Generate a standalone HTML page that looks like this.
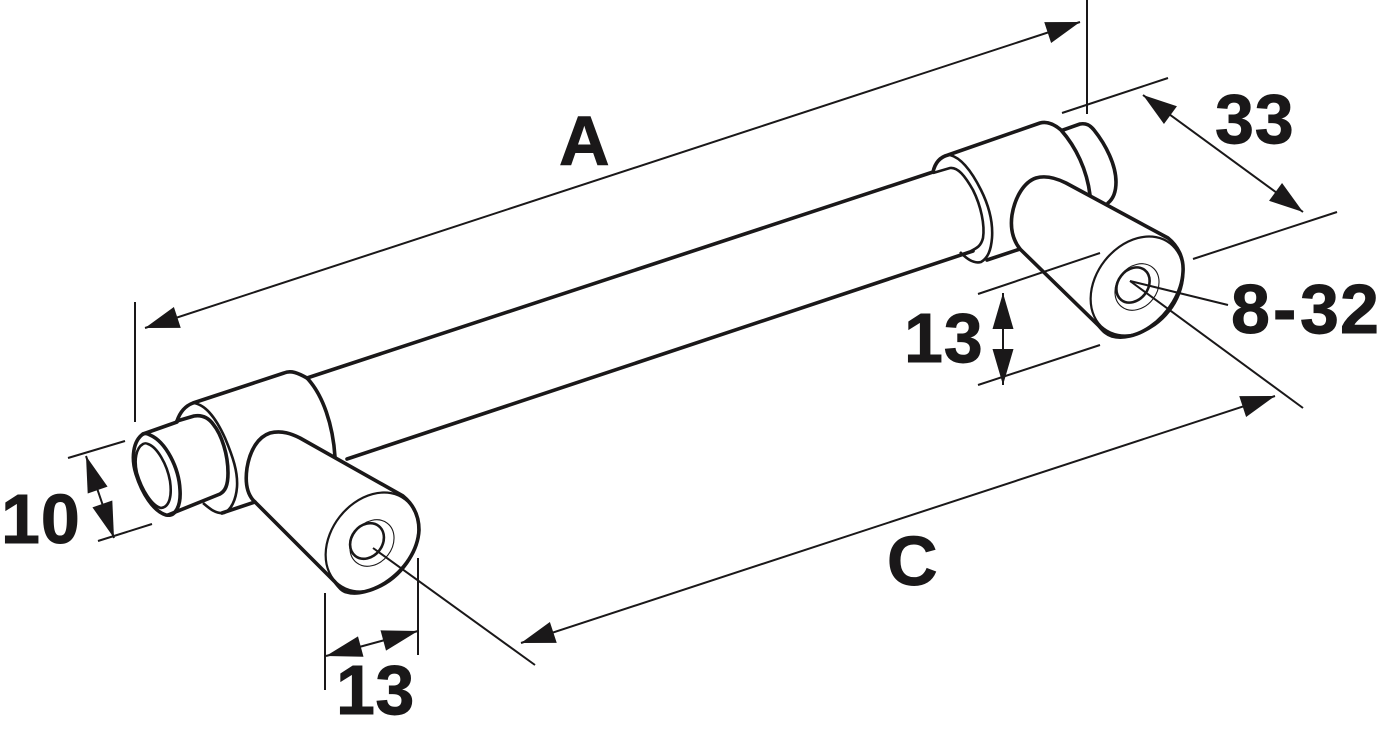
<!DOCTYPE html>
<html><head><meta charset="utf-8"><style>
html,body{margin:0;padding:0;background:#fff}
svg{display:block}
text{font-family:"Liberation Sans",sans-serif;font-weight:bold;fill:#1a1819;stroke:#1a1819;stroke-width:.9}
.t{fill:none;stroke:#1a1819;stroke-width:3.6;stroke-linejoin:round;stroke-linecap:round}
.m{fill:none;stroke:#1a1819;stroke-width:2.6}
.h{fill:none;stroke:#1a1819;stroke-width:1.1}
.d{fill:none;stroke:#1a1819;stroke-width:2}
</style></head><body>
<svg width="1379" height="730" viewBox="0 0 1379 730" xmlns="http://www.w3.org/2000/svg">
<defs>
<marker id="a" markerUnits="userSpaceOnUse" markerWidth="40" markerHeight="26" refX="36" refY="13" orient="auto-start-reverse"><path d="M2,2 L36,13 L2,24 Z" fill="#1a1819" stroke="none"/></marker>
<marker id="b" markerUnits="userSpaceOnUse" markerWidth="40" markerHeight="26" refX="37" refY="13" orient="auto-start-reverse"><path d="M1,2.5 L37,13 L1,23.5 Z" fill="#1a1819" stroke="none"/></marker>
</defs>

<!-- bar -->
<path class="t" d="M307,378 L933,172"/>
<path class="t" d="M347,459 L973,251"/>

<!-- left stub -->
<path class="t" d="M143,434 L177,422"/>
<path class="t" d="M143,434 C133,441 131,458 136,474 C142,493 153,511 166,515 C176,517 181,505 180,490 C179,468 166,442 150,435 C147,433 145,433 143,434 Z"/>
<path class="m" d="M143,444 C136,448 134,460 137,473 C142,490 152,506 161,508 C170,507 172,495 170,481 C167,464 157,447 148,444 C146,443 145,443 143,444 Z"/>
<path class="t" d="M177,421 L194,416 C200,415 207,416 213,424 C222,435 228,455 228,473 C228,486 225,491 220,494 L168,515"/>

<!-- left collar -->
<path class="t" d="M177,421 C180,412 185,406 193,403 L284,373 C291,370 298,373 307,378 C323,395 333,425 335,457"/>
<path class="m" d="M193,403 C205,404 216,418 225,438 C233,457 238,472 237,487 C236,500 231,510 224,513 C216,514 210,509 203,503"/>
<path class="t" d="M222,513 L255,502"/>

<!-- left cone -->
<path class="t" fill="#fff" d="M253,500 C247,493 245,482 247,468 C250,450 258,437 270,433 C282,430 292,434 300,438 L403,496 C414,505 419,517 419,530 C418,550 405,570 385,583 C372,591 357,595 347,592 C342,591 339,587 335,582 Z"/>
<ellipse class="m" cx="372" cy="542" rx="41" ry="54" transform="rotate(38 372 542)" style="stroke-width:2.2"/>
<ellipse class="m" cx="367" cy="541" rx="15.5" ry="19" transform="rotate(38 367 541)"/>
<ellipse class="h" cx="372" cy="543" rx="20" ry="25" transform="rotate(38 372 543)"/>

<!-- right collar -->
<path class="t" d="M1063,130 L1080,124 C1086,123 1090,125 1094,130 C1106,145 1116,165 1116,182 C1116,192 1113,199 1108,203"/>
<path class="t" d="M933,172 C935,163 940,157 948,155 L1040,123 C1047,121 1054,124 1061,130 C1076,147 1087,170 1090,195"/>
<path class="m" d="M950,155 C962,158 972,172 981,190 C990,208 993,224 992,238 C991,250 988,258 981,262 C973,264 966,258 960,252"/>
<path class="m" d="M933,173 L950,168 C958,167 965,176 973,190 C981,206 985,225 983,238 C981,246 977,248 971,251"/>
<path class="t" d="M987,260 L1020,249"/>

<!-- right cone -->
<path class="t" fill="#fff" d="M1020,249 C1013,240 1010,229 1012,215 C1015,197 1024,182 1036,178 C1046,175 1056,178 1066,183 L1168,238 C1178,246 1184,258 1183,272 C1182,292 1169,314 1150,327 C1137,336 1122,339 1112,336 C1105,334 1102,329 1098,325 Z"/>
<ellipse class="m" cx="1137" cy="286" rx="41" ry="54" transform="rotate(38 1137 286)" style="stroke-width:2.2"/>
<ellipse class="m" cx="1133" cy="285" rx="15" ry="19" transform="rotate(38 1133 285)"/>
<ellipse class="h" cx="1137" cy="287" rx="20" ry="25" transform="rotate(38 1137 287)"/>

<!-- extension lines -->
<g class="d">
<path d="M1087,0 L1087,114"/>
<path d="M135,302 L135,422"/>
<path d="M1062,113 L1168,78"/>
<path d="M1193,259 L1337,212"/>
<path d="M978,294 L1100,253"/>
<path d="M978,385 L1100,345"/>
<path d="M68,458 L125,441"/>
<path d="M98,541 L152,524"/>
<path d="M325,593 L325,690"/>
<path d="M418,558 L418,655"/>
<path d="M1130,281 L1303,408"/>
<path d="M1130,281 L1228,305"/>
<path d="M373,548 L535,665"/>
</g>

<!-- dimension arrows -->
<g class="d">
<path d="M145,328 L1080,22" marker-start="url(#a)" marker-end="url(#a)"/>
<path d="M521,643 L1275,396" marker-start="url(#a)" marker-end="url(#a)"/>
<path d="M1143,95 L1303,212" marker-start="url(#a)" marker-end="url(#a)"/>
<path d="M1003,293 L1003,385" marker-start="url(#b)" marker-end="url(#b)"/>
<path d="M86,456 L114,538" marker-start="url(#b)" marker-end="url(#b)"/>
<path d="M326,656 L418,631" marker-start="url(#b)" marker-end="url(#b)"/>
</g>

<!-- labels -->
<text x="559" y="165" font-size="70">A</text>
<text x="1215" y="143" font-size="70" letter-spacing=".8">33</text>
<text x="904" y="362" font-size="70" letter-spacing=".8">13</text>
<text x="1231 1273 1300 1340" y="333" font-size="70">8-32</text>
<text x="1" y="543" font-size="70" letter-spacing="1">10</text>
<text x="336" y="714" font-size="70" letter-spacing=".5">13</text>
<text x="887" y="585" font-size="70">C</text>
</svg>
</body></html>
